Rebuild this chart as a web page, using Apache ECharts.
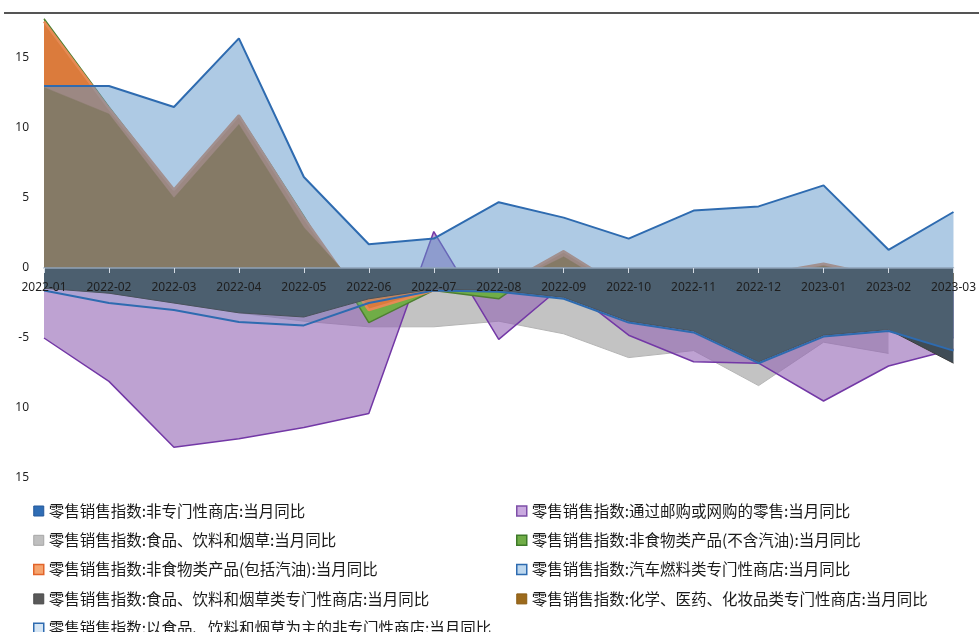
<!DOCTYPE html>
<html><head><meta charset="utf-8">
<script src="https://cdn.jsdelivr.net/npm/echarts@6/dist/echarts.min.js"></script>
<style>html,body{margin:0;padding:0;background:#fff}#c{width:979px;height:632px}</style>
</head><body><div id="c"></div>
<script>
const categories = ['2022-01','2022-02','2022-03','2022-04','2022-05','2022-06','2022-07','2022-08','2022-09','2022-10','2022-11','2022-12','2023-01','2023-02','2023-03'];
const nonSpecialized     = [-1.0,-1.5,-2.0,-2.6,-2.9,-1.8,-1.2,-1.1,-1.5,-3.2,-3.9,-5.8,-4.2,-3.8,-5.0];
const mailOnline         = [-5.0,-8.1,-12.8,-12.2,-11.4,-10.4,2.6,-5.1,-1.2,-4.8,-6.7,-6.8,-9.5,-7.0,-5.8];
const foodBevTobacco     = [-1.2,-1.8,-2.5,-3.2,-3.8,-4.2,-4.2,-3.8,-4.7,-6.4,-5.9,-8.4,-5.3,-6.1,null];
const nonFoodExFuel      = [17.8,11.5,5.5,10.9,3.7,-3.9,-1.6,-2.2,1.0,-1.5,-1.1,-0.6,0.2,-0.8,-1.3];
const nonFoodInclFuel    = [17.6,11.4,5.6,10.9,3.6,-3.0,-1.6,-1.4,1.2,-1.7,-1.0,-0.5,0.3,-0.7,-1.2];
const autoFuel           = [13.0,13.0,11.5,16.4,6.5,1.7,2.1,4.7,3.6,2.1,4.1,4.4,5.9,1.3,4.0];
const foodStores         = [-1.45,-1.8,-2.5,-3.2,-3.5,-2.2,-1.5,-1.6,-2.1,-3.8,-4.5,-6.7,-4.8,-4.4,-6.8];
const chemPharma         = [12.9,11.0,5.0,10.25,2.9,-2.2,-1.5,-1.5,0.8,-2.0,-1.5,-0.8,0.15,-0.9,-1.5];
const foodNonSpecialized = [-1.6,-2.5,-3.0,-3.85,-4.1,-2.5,-1.6,-1.7,-2.2,-3.9,-4.6,-6.8,-4.9,-4.5,-5.9];
const yTickValues = [-15,-10,-5,0,5,10,15];
const yTickLabels = ['15','10','-5','0','5','10','15'];

const N1 = '零售销售指数:非专门性商店:当月同比';
const N2 = '零售销售指数:通过邮购或网购的零售:当月同比';
const N3 = '零售销售指数:食品、饮料和烟草:当月同比';
const N4 = '零售销售指数:非食物类产品(不含汽油):当月同比';
const N5 = '零售销售指数:非食物类产品(包括汽油):当月同比';
const N6 = '零售销售指数:汽车燃料类专门性商店:当月同比';
const N7 = '零售销售指数:食品、饮料和烟草类专门性商店:当月同比';
const N8 = '零售销售指数:化学、医药、化妆品类专门性商店:当月同比';
const N9 = '零售销售指数:以食品、饮料和烟草为主的非专门性商店:当月同比';

function area(name, data, fill, line, lw, z) {
  return {
    name, type: 'line', data, symbol: 'none', smooth: false, connectNulls: false, z,
    lineStyle: { color: line, width: lw },
    itemStyle: { color: line },
    areaStyle: { color: fill, opacity: 1 },
    emphasis: { disabled: true }
  };
}

const chart = echarts.init(document.getElementById('c'), null, { renderer: 'canvas' });
const legendText = { fontFamily: 'Noto Sans CJK SC', fontSize: 15.5, color: '#1a1a1a', lineHeight: 18 };
chart.setOption({
  animation: false,
  backgroundColor: '#ffffff',
  graphic: [{ type: 'line', shape: { x1: 4, y1: 13, x2: 979, y2: 13 }, style: { stroke: '#555555', lineWidth: 2 }, z: 100 }],
  grid: { left: 44, right: 18, top: 16, bottom: 154, containLabel: false },
  xAxis: {
    type: 'category', data: categories, boundaryGap: false, z: 50, position: 'bottom', offset: -210,
    axisLine: { onZero: false, lineStyle: { color: '#8FA3B8', width: 1.5 } },
    axisTick: { show: true, length: 5, alignWithLabel: true, lineStyle: { color: '#D5DCE4' } },
    axisLabel: { interval: 0, margin: 14, fontFamily: 'Noto Sans', fontSize: 12, color: '#1e1e1e' },
    splitLine: { show: false }
  },
  yAxis: {
    type: 'value', min: -15, max: 18, interval: 5,
    axisLine: { show: false }, axisTick: { show: false }, splitLine: { show: false },
    axisLabel: {
      showMaxLabel: false, margin: 15, fontFamily: 'Noto Sans', fontSize: 12, color: '#1e1e1e',
      formatter: v => { const i = yTickValues.indexOf(v); return i >= 0 ? yTickLabels[i] : ''; }
    }
  },
  legend: [
    {
      orient: 'vertical', left: 28, top: 497, height: 160, itemGap: 11.3, itemWidth: 10, itemHeight: 10, icon: 'rect',
      textStyle: legendText, selectedMode: false,
      data: [
        { name: N1, itemStyle: { color: '#2F6DB5', borderColor: '#24589A', borderWidth: 1 } },
        { name: N3, itemStyle: { color: '#BFBFBF', borderColor: '#A6A6A6', borderWidth: 1 } },
        { name: N5, itemStyle: { color: '#F5A46E', borderColor: '#E2642A', borderWidth: 1.5 } },
        { name: N7, itemStyle: { color: '#595959', borderColor: '#4a4a4a', borderWidth: 1 } },
        { name: N9, itemStyle: { color: '#D6E6F5', borderColor: '#2E6BB0', borderWidth: 1.5 } }
      ]
    },
    {
      orient: 'vertical', left: 511, top: 497, height: 160, itemGap: 11.3, itemWidth: 10, itemHeight: 10, icon: 'rect',
      textStyle: legendText, selectedMode: false,
      data: [
        { name: N2, itemStyle: { color: '#C9A9DF', borderColor: '#7E4FA8', borderWidth: 1.5 } },
        { name: N4, itemStyle: { color: '#70AD47', borderColor: '#3E7A2A', borderWidth: 1.5 } },
        { name: N6, itemStyle: { color: '#BDD7EE', borderColor: '#2E6BB0', borderWidth: 1.5 } },
        { name: N8, itemStyle: { color: '#9C6A1C', borderColor: '#8a5c14', borderWidth: 1 } }
      ]
    }
  ],
  series: [
    area(N1, nonSpecialized, '#4472C4', '#2F5597', 1, 2),
    area(N3, foodBevTobacco, '#C3C3C3', '#B5B5B5', 1, 3),
    area(N2, mailOnline, 'rgba(147,100,180,0.6)', '#7338A6', 1.5, 4),
    area(N4, nonFoodExFuel, '#70AD47', '#4E7F32', 1.5, 5),
    area(N5, nonFoodInclFuel, '#DB7B3C', '#E58A55', 2.5, 6),
    area(N6, autoFuel, 'rgba(93,150,202,0.5)', '#2E6BB0', 2, 7),
    area(N8, chemPharma, '#857A66', '#857A66', 0.5, 8),
    area(N7, foodStores, '#404C55', '#3c3c3c', 1, 9),
    area(N9, foodNonSpecialized, 'rgba(120,165,205,0.22)', '#2E6BB0', 2, 10)
  ]
});
</script>
</body></html>
